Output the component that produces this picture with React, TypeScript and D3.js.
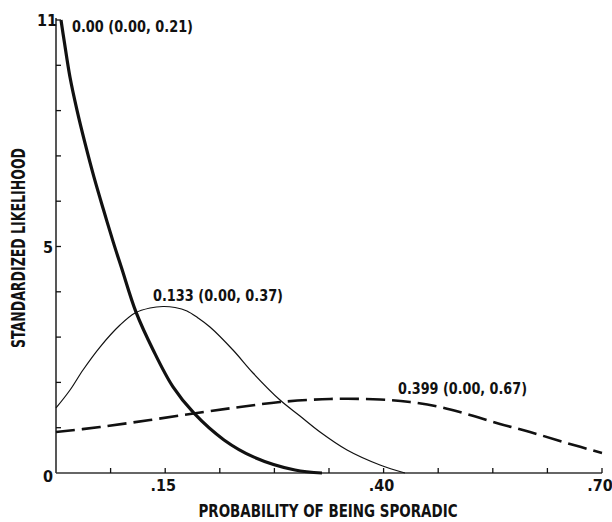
import React, { useEffect, useRef } from 'react';
import * as d3 from 'd3';

const margin = { top: 20, right: 10, bottom: 49, left: 56 };
const width = 612;
const height = 522;
const innerWidth = width - margin.left - margin.right;
const innerHeight = height - margin.top - margin.bottom;

// probability of being sporadic vs standardized likelihood
// bold curve, estimate 0.00
const probA = [0.0064, 0.0109, 0.0179, 0.0269, 0.0372, 0.0487, 0.0609, 0.0737, 0.084, 0.1026, 0.1244, 0.15, 0.1769, 0.2154, 0.2538, 0.3064, 0.341];
const likA = [10.0, 9.49, 8.74, 8.01, 7.28, 6.53, 5.81, 5.08, 4.53, 3.55, 2.72, 1.9, 1.32, 0.73, 0.35, 0.066, 0.0];

// thin curve, estimate 0.133
const probB = [0, 0.018, 0.0346, 0.0564, 0.0821, 0.1013, 0.1205, 0.1372, 0.1526, 0.1679, 0.1821, 0.1974, 0.2269, 0.2526, 0.2872, 0.3128, 0.3385, 0.3731, 0.4154, 0.4474];
const likB = [1.435, 1.832, 2.274, 2.781, 3.267, 3.532, 3.642, 3.675, 3.653, 3.576, 3.422, 3.223, 2.715, 2.208, 1.611, 1.258, 0.905, 0.508, 0.177, 0];

// dashed curve, estimate 0.399
const probC = [0, 0.0564, 0.1205, 0.1808, 0.2359, 0.2872, 0.3513, 0.4154, 0.4538, 0.4923, 0.5308, 0.5692, 0.6077, 0.6526, 0.7];
const likC = [0.905, 1.015, 1.17, 1.325, 1.457, 1.567, 1.634, 1.623, 1.567, 1.457, 1.28, 1.082, 0.905, 0.673, 0.442];

const curveLabels = ['0.00 (0.00, 0.21)', '0.133 (0.00, 0.37)', '0.399 (0.00, 0.67)'];

const xMinorTicks = [0.07, 0.14, 0.21, 0.28, 0.35, 0.42, 0.49, 0.56, 0.63, 0.7];
const xLabelTicks = [0.14, 0.42, 0.7];
const xTickLabels = ['.15', '.40', '.70'];
const yMinorTicks = [1, 2, 3, 4, 6, 7, 8, 9];
const yLabelTicks = [0, 5, 10];
const yTickLabels = ['0', '5', '11'];

const FONT = "'Liberation Sans Narrow', 'DejaVu Sans Condensed', 'Liberation Sans', sans-serif";

export default function App() {
  const ref = useRef<SVGSVGElement>(null);

  useEffect(() => {
    const svg = d3.select(ref.current);
    svg.selectAll('*').remove();

    const x = d3.scaleLinear().domain([0, 0.7]).range([margin.left, margin.left + innerWidth]);
    const y = d3.scaleLinear().domain([0, 10]).range([margin.top + innerHeight, margin.top]);

    const g = svg.append('g').attr('font-family', FONT).attr('font-weight', 'bold').attr('fill', '#111');

    // axes
    g.append('line')
      .attr('x1', x(0)).attr('x2', x(0))
      .attr('y1', y(10) - 2).attr('y2', y(0))
      .attr('stroke', '#111').attr('stroke-width', 1.4);
    g.append('line')
      .attr('x1', x(0)).attr('x2', x(0.7))
      .attr('y1', y(0)).attr('y2', y(0))
      .attr('stroke', '#333').attr('stroke-width', 1.3);

    g.selectAll('.xtick').data(xMinorTicks).enter().append('line')
      .attr('x1', d => x(d)).attr('x2', d => x(d))
      .attr('y1', y(0)).attr('y2', y(0) - 5)
      .attr('stroke', '#111').attr('stroke-width', 1.3);
    g.selectAll('.ytick').data(yMinorTicks.concat([5, 10])).enter().append('line')
      .attr('x1', x(0)).attr('x2', x(0) + 5)
      .attr('y1', d => y(d)).attr('y2', d => y(d))
      .attr('stroke', '#111').attr('stroke-width', 1.3);

    g.selectAll('.xlab').data(xLabelTicks).enter().append('text')
      .attr('x', d => x(d) - 2).attr('y', y(0) + 18)
      .attr('text-anchor', 'middle').attr('font-size', 16)
      .text((d, i) => xTickLabels[i]);
    g.selectAll('.ylab').data(yLabelTicks).enter().append('text')
      .attr('x', d => (d === 10 ? x(0) + 1 : x(0) - 3))
      .attr('y', d => (d === 0 ? y(d) + 9 : y(d) + 6))
      .attr('text-anchor', 'end').attr('font-size', 16)
      .text((d, i) => yTickLabels[i]);

    // titles
    g.append('text')
      .attr('x', 328).attr('y', 517)
      .attr('text-anchor', 'middle').attr('font-size', 18)
      .attr('textLength', 259).attr('lengthAdjust', 'spacingAndGlyphs')
      .text('PROBABILITY OF BEING SPORADIC');
    g.append('text')
      .attr('transform', 'translate(25,248) rotate(-90)')
      .attr('text-anchor', 'middle').attr('font-size', 19)
      .attr('textLength', 200).attr('lengthAdjust', 'spacingAndGlyphs')
      .text('STANDARDIZED LIKELIHOOD');

    // curves
    const series = [
      { px: probA, py: likA, w: 3.2, dash: null },
      { px: probB, py: likB, w: 1.2, dash: null },
      { px: probC, py: likC, w: 2.6, dash: '19,7' }
    ];
    series.forEach(s => {
      const pts = s.px.map((p, i) => [x(p), y(s.py[i])] as [number, number]);
      g.append('path')
        .attr('d', d3.line().curve(d3.curveCatmullRom.alpha(0.5))(pts))
        .attr('fill', 'none')
        .attr('stroke', '#111')
        .attr('stroke-width', s.w)
        .attr('stroke-dasharray', s.dash);
    });

    // curve annotations
    const ann = [
      { x: 72, y: 32, len: 121 },
      { x: 153, y: 301, len: 130 },
      { x: 398, y: 394, len: 129 }
    ];
    ann.forEach((a, i) => {
      g.append('text')
        .attr('x', a.x).attr('y', a.y)
        .attr('font-size', 15)
        .attr('textLength', a.len).attr('lengthAdjust', 'spacingAndGlyphs')
        .text(curveLabels[i]);
    });
  }, []);

  return (
    <svg
      ref={ref}
      width={width}
      height={height}
      style={{ position: 'absolute', left: 0, top: 0, background: '#fff' }}
    />
  );
}
